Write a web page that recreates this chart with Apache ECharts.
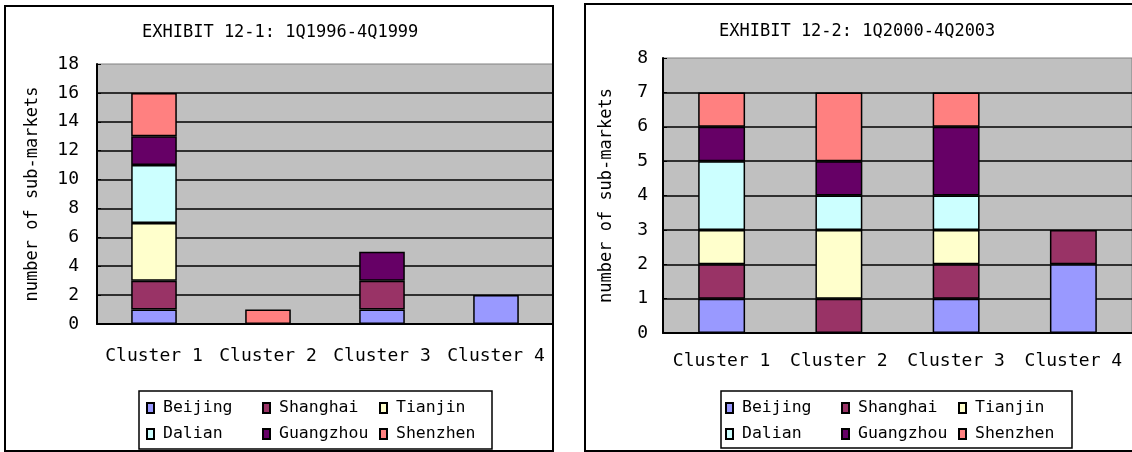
<!DOCTYPE html>
<html>
<head>
<meta charset="utf-8">
<title>Cluster composition of sub-markets</title>
<script src="https://cdn.jsdelivr.net/npm/echarts@6/dist/echarts.min.js"></script>
<style>
  html, body { margin: 0; padding: 0; background: #fff; }
  #chart { width: 1132px; height: 452px; }
</style>
</head>
<body>
<div id="chart"></div>
<script>
// Categories and city series
const categories = ['Cluster 1', 'Cluster 2', 'Cluster 3', 'Cluster 4'];
const cities = ['Beijing', 'Shanghai', 'Tianjin', 'Dalian', 'Guangzhou', 'Shenzhen'];

// Exhibit 12-1: 1Q1996-4Q1999 (sub-markets per cluster)
const beijing1   = [1, 0, 1, 2];
const shanghai1  = [2, 0, 2, 0];
const tianjin1   = [4, 0, 0, 0];
const dalian1    = [4, 0, 0, 0];
const guangzhou1 = [2, 0, 2, 0];
const shenzhen1  = [3, 1, 0, 0];

// Exhibit 12-2: 1Q2000-4Q2003
const beijing2   = [1, 0, 1, 2];
const shanghai2  = [1, 1, 1, 1];
const tianjin2   = [1, 2, 1, 0];
const dalian2    = [2, 1, 1, 0];
const guangzhou2 = [1, 1, 2, 0];
const shenzhen2  = [1, 2, 1, 0];

// Value axis ranges (tick labels follow from min/max/interval)
const yMax1 = 18, yStep1 = 2;
const yMax2 = 8,  yStep2 = 1;

const titles = ['EXHIBIT 12-1: 1Q1996-4Q1999', 'EXHIBIT 12-2: 1Q2000-4Q2003'];
const yName = 'number of sub-markets';

// Classic office palette
const cityColors = {
  Beijing: '#9999FF', Shanghai: '#993366', Tianjin: '#FFFFCC',
  Dalian: '#CCFFFF', Guangzhou: '#660066', Shenzhen: '#FF8080'
};

const panel1 = [beijing1, shanghai1, tianjin1, dalian1, guangzhou1, shenzhen1];
const panel2 = [beijing2, shanghai2, tianjin2, dalian2, guangzhou2, shenzhen2];

const FONT = 'DejaVu Sans Mono';

function barSeries(values, idx, panel) {
  return cities.map((city, i) => ({
    name: city,
    type: 'bar',
    stack: 'p' + panel,
    xAxisIndex: idx,
    yAxisIndex: idx,
    barWidth: '40%',
    itemStyle: { color: cityColors[city], borderColor: '#000', borderWidth: 1.5 },
    emphasis: { disabled: true },
    data: values[i].map(v => (v === 0 ? null : v))
  }));
}

function xAxis(gridIndex, labelMargin) {
  return {
    type: 'category', gridIndex, data: categories,
    axisLine: { lineStyle: { color: '#000', width: 2 } },
    axisTick: { inside: true, length: 5, lineStyle: { color: '#000', width: 1.5 } },
    axisLabel: { interval: 0, fontFamily: FONT, fontSize: 18, color: '#000', margin: labelMargin }
  };
}

function yAxis(gridIndex, max, step, labelMargin, nameGap) {
  return {
    type: 'value', gridIndex, min: 0, max, interval: step,
    name: yName, nameLocation: 'middle', nameGap, nameRotate: 90,
    nameTextStyle: { fontFamily: FONT, fontSize: 17, color: '#000' },
    axisLine: { show: true, lineStyle: { color: '#000', width: 2 } },
    axisTick: { show: true, inside: true, length: 4, lineStyle: { color: '#000' } },
    axisLabel: { fontFamily: FONT, fontSize: 18, color: '#000', margin: labelMargin },
    splitLine: { show: true, showMaxLine: false, lineStyle: { color: '#000', width: 1.5 } }
  };
}

function legendColumn(names, left) {
  return {
    data: names, orient: 'vertical', left, top: 399,
    itemWidth: 7, itemHeight: 10, itemGap: 8, padding: 0,
    icon: 'rect',
    selectedMode: false,
    textStyle: { fontFamily: FONT, fontSize: 16.5, color: '#000', lineHeight: 18, padding: [0, 0, 0, 4] }
  };
}

const chart = echarts.init(document.getElementById('chart'), null, { renderer: 'canvas' });

chart.setOption({
  animation: false,
  backgroundColor: '#fff',
  title: [
    { text: titles[0], left: 142, top: 24, padding: 0,
      textStyle: { fontFamily: FONT, fontSize: 17, fontWeight: 'normal', color: '#000' } },
    { text: titles[1], left: 719, top: 23, padding: 0,
      textStyle: { fontFamily: FONT, fontSize: 17, fontWeight: 'normal', color: '#000' } }
  ],
  grid: [
    { left: 97, top: 64, width: 456, height: 260, show: true,
      backgroundColor: '#C0C0C0', borderColor: '#808080', borderWidth: 1 },
    { left: 663, top: 58, width: 472, height: 275, show: true,
      backgroundColor: '#C0C0C0', borderColor: '#808080', borderWidth: 1 }
  ],
  xAxis: [xAxis(0, 23), xAxis(1, 19)],
  yAxis: [yAxis(0, yMax1, yStep1, 18, 56), yAxis(1, yMax2, yStep2, 15, 48)],
  legend: [
    legendColumn(['Beijing', 'Dalian'], 146),
    legendColumn(['Shanghai', 'Guangzhou'], 262),
    legendColumn(['Tianjin', 'Shenzhen'], 379),
    legendColumn(['Beijing', 'Dalian'], 725),
    legendColumn(['Shanghai', 'Guangzhou'], 841),
    legendColumn(['Tianjin', 'Shenzhen'], 958)
  ],
  graphic: [
    // panel frames
    { type: 'rect', z: 100, silent: true,
      shape: { x: 5, y: 6, width: 548, height: 445 },
      style: { fill: null, stroke: '#000', lineWidth: 2 } },
    { type: 'rect', z: 100, silent: true,
      shape: { x: 585, y: 4, width: 560, height: 447 },
      style: { fill: null, stroke: '#000', lineWidth: 2 } },
    // legend frames
    { type: 'rect', z: -1, silent: true,
      shape: { x: 139, y: 391, width: 353, height: 58 },
      style: { fill: '#fff', stroke: '#000', lineWidth: 1.5 } },
    { type: 'rect', z: -1, silent: true,
      shape: { x: 721, y: 391, width: 351, height: 57 },
      style: { fill: '#fff', stroke: '#000', lineWidth: 1.5 } }
  ],
  series: [...barSeries(panel1, 0, 1), ...barSeries(panel2, 1, 2)]
});
</script>
</body>
</html>
